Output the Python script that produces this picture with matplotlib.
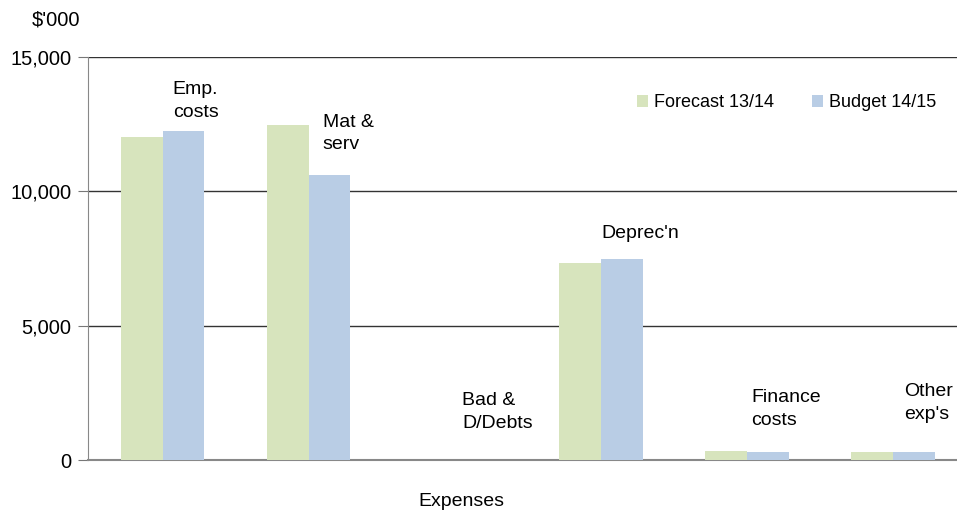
import matplotlib.pyplot as plt
import numpy as np

plt.rcParams['font.family'] = ['Liberation Sans', 'DejaVu Sans']

categories = ["Emp.\ncosts", "Mat &\nserv", "Bad &\nD/Debts", "Deprec'n", "Finance\ncosts", "Other\nexp's"]
forecast = [12020, 12460, 0, 7330, 330, 290]
budget = [12240, 10610, 0, 7480, 320, 310]
yticks = [0, 5000, 10000, 15000]

green = "#D7E4BD"
blue = "#B9CDE5"

fig = plt.figure(figsize=(9.57, 5.13), dpi=100)
ax = fig.add_axes([0.092, 0.103, 0.908, 0.786])

x = np.arange(len(categories))
w = 0.287
ax.bar(x - w / 2, forecast, w, color=green, label="Forecast 13/14", zorder=3)
ax.bar(x + w / 2, budget, w, color=blue, label="Budget 14/15", zorder=3)

# category labels placed near the bars (data coords, left edge / middle)
label_pos = [(0.07, 13350), (1.096, 12150), (2.05, 1800),
             (3.007, 8430), (4.03, 1910), (5.08, 2140)]
for (lx, ly), txt in zip(label_pos, categories):
    ax.text(lx, ly, txt, ha="left", va="center", fontsize=14, linespacing=1.45)

ax.set_xlim(-0.51, 5.44)
ax.set_ylim(0, 15000)
ax.set_yticks(yticks)
ax.set_yticklabels([f"{v:,}" for v in yticks], fontsize=14.5)
ax.set_xticks([])
ax.yaxis.grid(True, color="#333333", linewidth=1, zorder=0)
ax.tick_params(axis="y", direction="out", length=7, color="#777777", pad=5)

for s in ["top", "right"]:
    ax.spines[s].set_visible(False)
ax.spines["left"].set_color("#888888")
ax.spines["bottom"].set_color("#888888")
ax.spines["bottom"].set_linewidth(1.5)

fig.text(461 / 957, 1 - 501 / 513, "Expenses", fontsize=14, ha="center", va="center")
fig.text(32 / 957, 1 - 20 / 513, "$'000", fontsize=14.5, va="center")

ax.legend(loc="upper right", bbox_to_anchor=(0.995, 0.948), ncol=2, frameon=False,
          fontsize=13, handlelength=0.6, handleheight=0.6, handletextpad=0.35,
          columnspacing=2.1)

fig.savefig("out.png", dpi=100)
